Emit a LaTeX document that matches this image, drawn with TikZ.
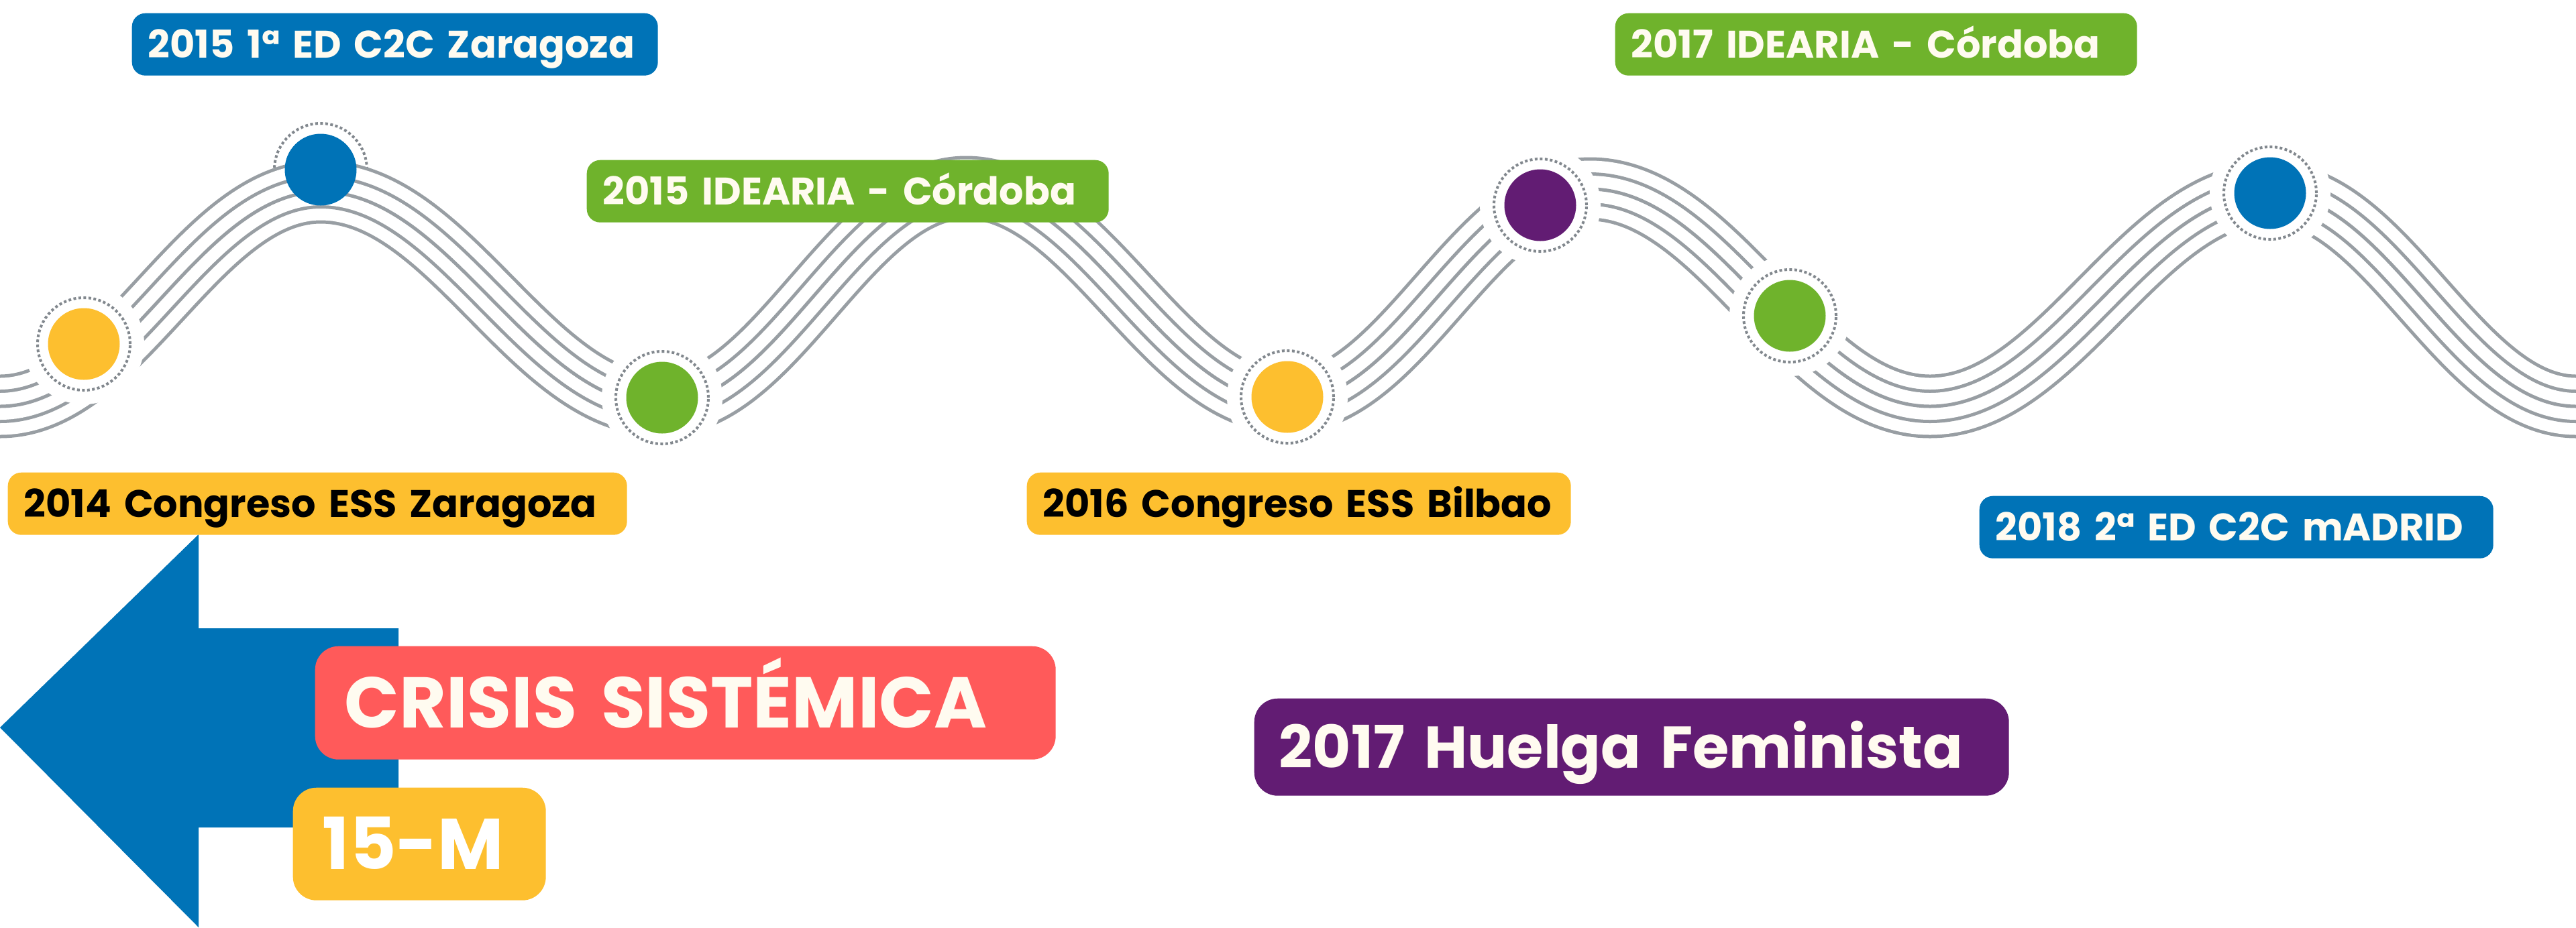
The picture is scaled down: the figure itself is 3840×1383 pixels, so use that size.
\documentclass[tikz,border=0pt]{standalone}
\usepackage{fontspec}
\setmainfont{Poppins}
\usepackage{tikz}
\usetikzlibrary{positioning}

\definecolor{azul}{RGB}{0,115,183}
\definecolor{amarillo}{RGB}{253,191,47}
\definecolor{verde}{RGB}{111,179,44}
\definecolor{morado}{RGB}{98,28,115}
\definecolor{rojo}{RGB}{255,90,90}
\definecolor{gris}{RGB}{152,158,163}
\definecolor{punteado}{RGB}{130,136,142}
\definecolor{crema}{RGB}{255,251,240}

\newcommand{\ondas}{(-100,606) -- (0,606)
  .. controls (182,606) and (296,286) .. (478,286)
  .. controls (671,286) and (792,604) .. (985,604)
  .. controls (1158,604) and (1267,280) .. (1440,280)
  .. controls (1622,280) and (1737,600) .. (1919,600)
  .. controls (2090,600) and (2199,282) .. (2370,282)
  .. controls (2563,282) and (2684,606) .. (2877,606)
  .. controls (3070,606) and (3192,288) .. (3385,288)
  .. controls (3558,288) and (3667,606) .. (3840,606) -- (3940,606)}

\begin{document}
\begin{tikzpicture}[x=0.1mm, y=-0.1mm,
    anillo/.style={circle, inner sep=0pt, minimum size=13.8mm, draw=punteado,
      line width=0.4mm, dash pattern=on 0.4mm off 0.35mm},
    halo/.style={preaction={draw=white, fill=white, solid, line width=4.2mm}},
    disco/.style={circle, inner sep=0pt, minimum size=10.7mm, fill=#1},
    etiqueta/.style={fill=#1, rounded corners=2mm, anchor=north west,
      inner xsep=2.4mm, inner ysep=0pt, minimum height=9.3mm, align=left,
      text=crema, font=\fontsize{16.3}{18}\selectfont\bfseries,
      text height=4mm, text depth=0pt},
    grande/.style={rounded corners=3.5mm, inner xsep=4.4mm,
      font=\fontsize{30.5}{34}\selectfont\bfseries, text height=7.5mm}]
  \useasboundingbox (0,0) rectangle (3840,1383);

  \fill[azul] (0,1085) -- (296,797) -- (296,937) -- (594,937) -- (594,1234)
    -- (296,1234) -- (296,1383) -- cycle;

  \node[anillo] (h2) at (478,253) {};

  \begin{scope}
    \clip (0,0) rectangle (3840,1383);
    \foreach \w/\c in {9.5mm/gris, 8.5mm/white, 5mm/gris, 4mm/white, 0.5mm/gris}
      \draw[line width=\w, \c] \ondas;
  \end{scope}

  \node[disco=azul] (d2) at (h2) {};
  \foreach \n/\x/\y/\c in {1/125/513/amarillo, 3/987/593/verde, 4/1919/592/amarillo,
      5/2296/306/morado, 6/2668/471/verde, 7/3384/288/azul} {
    \node[anillo, halo] (h\n) at (\x,\y) {};
    \node[disco=\c] (d\n) at (h\n) {};
  }

  \node[etiqueta=azul, text width=73.6mm] (c2cz) at (196,19) {2015 1ª ED C2C Zaragoza};
  \node[etiqueta=verde, text width=73mm] (ide15) at (874,238) {2015 IDEARIA - Córdoba};
  \node[etiqueta=verde, text width=73mm] (ide17) at (2407,19) {2017 IDEARIA - Córdoba};
  \node[etiqueta=amarillo, text=black, text width=87.5mm] (ess14) at (11,704) {2014 Congreso ESS Zaragoza};
  \node[etiqueta=amarillo, text=black, text width=76.3mm] (ess16) at (1530,704) {2016 Congreso ESS Bilbao};
  \node[etiqueta=azul, text width=71.8mm] (c2cm) at (2950,739) {2018 2ª ED C2C mADRID};

  \node[etiqueta=rojo, grande, text width=101.6mm, minimum height=16.9mm] (crisis) at (469,963) {CRISIS SISTÉMICA};
  \node[etiqueta=amarillo, grande, text=white, text width=28.9mm, minimum height=16.8mm] (quince) at (436,1174) {15-M};
  \node[etiqueta=morado, grande, inner xsep=3.7mm, text width=105.1mm, minimum height=14.5mm,
    font=\fontsize{25}{30}\selectfont\bfseries, text height=6.2mm] (huelga) at (1869,1041) {\mbox{2017 Huelga Feminista}};
\end{tikzpicture}
\end{document}
